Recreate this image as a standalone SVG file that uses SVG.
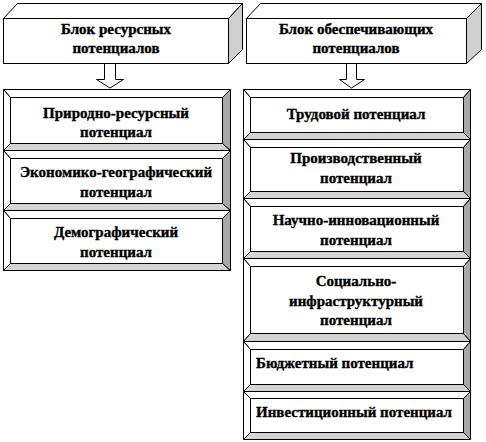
<svg xmlns="http://www.w3.org/2000/svg" width="486" height="442" viewBox="0 0 486 442">
<style>
.ln{stroke:#000;stroke-width:1;stroke-linejoin:miter}
.w{fill:#fff}
.g1{fill:#d4d4d4}
.g2{fill:#a8a8a8}
.gs{fill:#cfcfcf}
text{font-family:"Liberation Serif","Times New Roman",serif;font-weight:bold;font-size:15px;fill:#000;stroke:#000;stroke-width:0.35}
.c{text-anchor:middle}
</style>
<rect x="0" y="0" width="486" height="442" fill="#fff"/>
<g id="hdr-left">
<polygon class="ln w" points="3.5,18.5 17.5,3.5 242.5,3.5 228.5,18.5"/>
<polygon class="ln gs" points="228.5,18.5 242.5,3.5 242.5,49.5 228.5,63.5"/>
<rect class="ln w" x="3.5" y="18.5" width="225" height="45"/>
<text class="c" x="116" y="34">Блок ресурсных</text>
<text class="c" x="116" y="53">потенциалов</text>
</g>
<g id="hdr-right">
<polygon class="ln w" points="246.5,18.5 260.5,3.5 481.5,3.5 466.5,18.5"/>
<polygon class="ln gs" points="466.5,18.5 481.5,3.5 481.5,49.5 466.5,63.5"/>
<rect class="ln w" x="246.5" y="18.5" width="220" height="45"/>
<text class="c" x="356" y="34">Блок обеспечивающих</text>
<text class="c" x="356" y="53">потенциалов</text>
</g>
<g id="connectors">
<polygon class="ln w" points="104.5,63.5 115.5,63.5 115.5,79.5 123.5,79.5 110,88 96.5,79.5 104.5,79.5"/>
<polygon class="ln w" points="346.5,63.5 356.5,63.5 356.5,79.5 364.5,79.5 351.5,88 339.5,79.5 346.5,79.5"/>
</g>
<g id="n-prirod">
<polygon class="ln w" points="3.5,89.5 230.5,89.5 222.5,97.5 10.5,97.5"/>
<polygon class="ln w" points="3.5,89.5 10.5,97.5 10.5,143.5 3.5,150.5"/>
<polygon class="ln g1" points="3.5,150.5 10.5,143.5 222.5,143.5 230.5,150.5"/>
<polygon class="ln g2" points="230.5,89.5 230.5,150.5 222.5,143.5 222.5,97.5"/>
<rect class="ln w" x="10.5" y="97.5" width="212" height="46"/>
<text class="c" x="116" y="118">Природно-ресурсный</text>
<text class="c" x="116" y="137">потенциал</text>
</g>
<g id="n-econ">
<polygon class="ln w" points="3.5,150.5 230.5,150.5 222.5,158.5 10.5,158.5"/>
<polygon class="ln w" points="3.5,150.5 10.5,158.5 10.5,203.5 3.5,210.5"/>
<polygon class="ln g1" points="3.5,210.5 10.5,203.5 222.5,203.5 230.5,210.5"/>
<polygon class="ln g2" points="230.5,150.5 230.5,210.5 222.5,203.5 222.5,158.5"/>
<rect class="ln w" x="10.5" y="158.5" width="212" height="45"/>
<text class="c" x="116" y="177">Экономико-географический</text>
<text class="c" x="116" y="197">потенциал</text>
</g>
<g id="n-demo">
<polygon class="ln w" points="3.5,210.5 230.5,210.5 222.5,218.5 10.5,218.5"/>
<polygon class="ln w" points="3.5,210.5 10.5,218.5 10.5,263.5 3.5,270.5"/>
<polygon class="ln g1" points="3.5,270.5 10.5,263.5 222.5,263.5 230.5,270.5"/>
<polygon class="ln g2" points="230.5,210.5 230.5,270.5 222.5,263.5 222.5,218.5"/>
<rect class="ln w" x="10.5" y="218.5" width="212" height="45"/>
<text class="c" x="116" y="237">Демографический</text>
<text class="c" x="116" y="257">потенциал</text>
</g>
<g id="n-trud">
<polygon class="ln w" points="243.5,89.5 470.5,89.5 463.5,97.5 250.5,97.5"/>
<polygon class="ln w" points="243.5,89.5 250.5,97.5 250.5,132.5 243.5,139.5"/>
<polygon class="ln g1" points="243.5,139.5 250.5,132.5 463.5,132.5 470.5,139.5"/>
<polygon class="ln g2" points="470.5,89.5 470.5,139.5 463.5,132.5 463.5,97.5"/>
<rect class="ln w" x="250.5" y="97.5" width="213" height="35"/>
<text class="c" x="356" y="119">Трудовой потенциал</text>
</g>
<g id="n-proizv">
<polygon class="ln w" points="243.5,139.5 470.5,139.5 463.5,147.5 250.5,147.5"/>
<polygon class="ln w" points="243.5,139.5 250.5,147.5 250.5,191.5 243.5,198.5"/>
<polygon class="ln g1" points="243.5,198.5 250.5,191.5 463.5,191.5 470.5,198.5"/>
<polygon class="ln g2" points="470.5,139.5 470.5,198.5 463.5,191.5 463.5,147.5"/>
<rect class="ln w" x="250.5" y="147.5" width="213" height="44"/>
<text class="c" x="356" y="163">Производственный</text>
<text class="c" x="356" y="183">потенциал</text>
</g>
<g id="n-nauch">
<polygon class="ln w" points="243.5,198.5 470.5,198.5 463.5,206.5 250.5,206.5"/>
<polygon class="ln w" points="243.5,198.5 250.5,206.5 250.5,251.5 243.5,258.5"/>
<polygon class="ln g1" points="243.5,258.5 250.5,251.5 463.5,251.5 470.5,258.5"/>
<polygon class="ln g2" points="470.5,198.5 470.5,258.5 463.5,251.5 463.5,206.5"/>
<rect class="ln w" x="250.5" y="206.5" width="213" height="45"/>
<text class="c" x="356" y="225">Научно-инновационный</text>
<text class="c" x="356" y="245">потенциал</text>
</g>
<g id="n-soc">
<polygon class="ln w" points="243.5,258.5 470.5,258.5 463.5,266.5 250.5,266.5"/>
<polygon class="ln w" points="243.5,258.5 250.5,266.5 250.5,333.5 243.5,341.5"/>
<polygon class="ln g1" points="243.5,341.5 250.5,333.5 463.5,333.5 470.5,341.5"/>
<polygon class="ln g2" points="470.5,258.5 470.5,341.5 463.5,333.5 463.5,266.5"/>
<rect class="ln w" x="250.5" y="266.5" width="213" height="67"/>
<text class="c" x="356" y="286">Социально-</text>
<text class="c" x="356" y="306">инфраструктурный</text>
<text class="c" x="356" y="325">потенциал</text>
</g>
<g id="n-budg">
<polygon class="ln w" points="243.5,341.5 470.5,341.5 463.5,349.5 250.5,349.5"/>
<polygon class="ln w" points="243.5,341.5 250.5,349.5 250.5,384.5 243.5,391.5"/>
<polygon class="ln g1" points="243.5,391.5 250.5,384.5 463.5,384.5 470.5,391.5"/>
<polygon class="ln g2" points="470.5,341.5 470.5,391.5 463.5,384.5 463.5,349.5"/>
<rect class="ln w" x="250.5" y="349.5" width="213" height="35"/>
<text x="256" y="368">Бюджетный потенциал</text>
</g>
<g id="n-invest">
<polygon class="ln w" points="243.5,391.5 470.5,391.5 463.5,398.5 250.5,398.5"/>
<polygon class="ln w" points="243.5,391.5 250.5,398.5 250.5,432.5 243.5,439.5"/>
<polygon class="ln g1" points="243.5,439.5 250.5,432.5 463.5,432.5 470.5,439.5"/>
<polygon class="ln g2" points="470.5,391.5 470.5,439.5 463.5,432.5 463.5,398.5"/>
<rect class="ln w" x="250.5" y="398.5" width="213" height="34"/>
<text x="256" y="417">Инвестиционный потенциал</text>
</g>
</svg>
